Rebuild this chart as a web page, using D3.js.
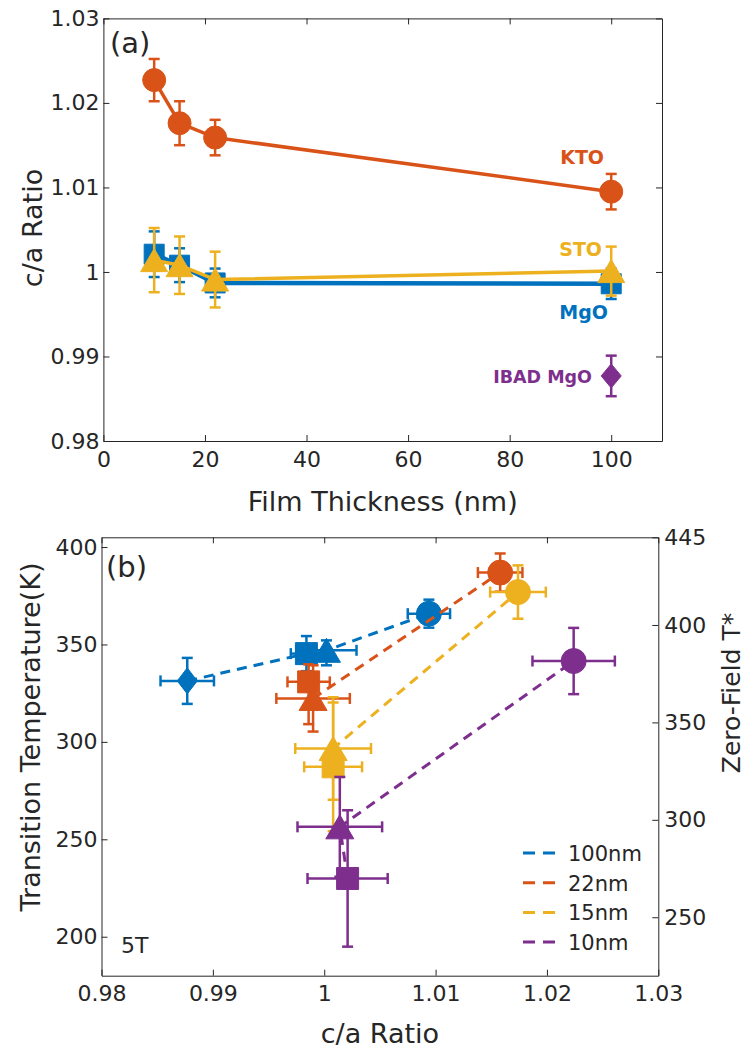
<!DOCTYPE html>
<html>
<head>
<meta charset="utf-8">
<script src="https://cdn.jsdelivr.net/npm/d3@7"></script>
<style>
body { margin: 0; background: #fff; }
text { font-family: "DejaVu Sans", sans-serif; fill: #262626; }
</style>
</head>
<body>
<svg id="fig" width="748" height="1055"></svg>
<script>
// ---- panel (a): c/a ratio vs film thickness ----
var thickness = [10, 15, 22, 100];
var ktoRatio = [1.0227, 1.0176, 1.0159, 1.0095];
var ktoErr   = [0.0025, 0.0026, 0.0021, 0.0021];
var stoRatio = [1.0014, 1.0008, 0.9991, 1.0001];
var stoErr   = [0.0038, 0.0034, 0.0033, 0.0029];
var mgoRatio = [1.0021, 1.0008, 0.9987, 0.9986];
var mgoErr   = [0.0027, 0.0020, 0.0017, 0.0018];
var ibadThickness = [100];
var ibadRatio = [0.9877];
var ibadErr   = [0.0024];

// ---- panel (b): transition temperature vs c/a ratio ----
// rows = film thickness, columns = substrate (null = no sample)
var groupLabels = ["100nm", "22nm", "15nm", "10nm"];
var substrates = ["IBAD MgO", "MgO", "STO", "KTO"];
var caB = [
  [0.9877, 0.9984, 1.0002, 1.0094],
  [null,   0.9986, 0.9990, 1.0158],
  [null,   1.0008, 1.0008, 1.0174],
  [null,   1.0021, 1.0014, 1.0224]
];
var caErrB = [
  [0.0024, 0.0014, 0.0027, 0.0019],
  [null,   0.0019, 0.0033, 0.0020],
  [null,   0.0026, 0.0034, 0.0025],
  [null,   0.0036, 0.0038, 0.0037]
];
var tempB = [
  [331.3, 345.3, 347.0, 365.8],
  [null,  330.8, 322.3, 386.9],
  [null,  287.2, 296.6, 376.9],
  [null,  229.9, 256.4, 341.5]
];
var tempErrLow = [
  [11.8, 9, 7.7, 7.2],
  [null, 21.7, 17, 9.8],
  [null, 33, 26.3, 13.7],
  [null, 35, 25.6, 17]
];
var tempErrHigh = [
  [11.8, 9, 5.1, 7.2],
  [null, 9, 17, 9.8],
  [null, 33, 26.3, 13.7],
  [null, 35, 25.6, 17]
];

// tick values
var thicknessTicks = [0, 20, 40, 60, 80, 100];
var caTicks = [0.98, 0.99, 1, 1.01, 1.02, 1.03];
var tempTicks = [200, 250, 300, 350, 400];
var zeroFieldTicks = [250, 300, 350, 400, 445];

var colors = { blue: "#0072BD", orange: "#D95319", yellow: "#EDB120", purple: "#7E2F8E" };
var groupColors = [colors.blue, colors.orange, colors.yellow, colors.purple];
var substrateShapes = ["diamond", "square", "triangle", "circle"];

var svg = d3.select("#fig");
var axisColor = "#262626";

function markerPath(type, s) {
  var p;
  if (type === "circle") {
    p = d3.path(); p.arc(0, 0, s.r, 0, 2 * Math.PI); p.closePath();
    return p.toString();
  }
  if (type === "square") {
    var h = s.sq / 2;
    return "M" + (-h) + "," + (-h) + "H" + h + "V" + h + "H" + (-h) + "Z";
  }
  if (type === "triangle") {
    return "M0," + (-s.th / 2) + "L" + (s.tw / 2) + "," + (s.th / 2) + "L" + (-s.tw / 2) + "," + (s.th / 2) + "Z";
  }
  // diamond
  return "M0," + (-s.dh / 2) + "L" + (s.dw / 2) + ",0L0," + (s.dh / 2) + "L" + (-s.dw / 2) + ",0Z";
}

function drawMarker(g, type, x, y, color, s) {
  g.append("path")
    .attr("d", markerPath(type, s))
    .attr("transform", "translate(" + x + "," + y + ")")
    .attr("fill", color)
    .attr("stroke", color)
    .attr("stroke-width", 1);
}

function vBar(g, x, y1, y2, color, cap) {
  g.append("line").attr("x1", x).attr("x2", x).attr("y1", y1).attr("y2", y2)
    .attr("stroke", color).attr("stroke-width", 2.5);
  [y1, y2].forEach(function (y) {
    g.append("line").attr("x1", x - cap / 2).attr("x2", x + cap / 2).attr("y1", y).attr("y2", y)
      .attr("stroke", color).attr("stroke-width", 2.5);
  });
}

function hBar(g, y, x1, x2, color, cap) {
  g.append("line").attr("x1", x1).attr("x2", x2).attr("y1", y).attr("y2", y)
    .attr("stroke", color).attr("stroke-width", 2.5);
  [x1, x2].forEach(function (x) {
    g.append("line").attr("x1", x).attr("x2", x).attr("y1", y - cap / 2).attr("y2", y + cap / 2)
      .attr("stroke", color).attr("stroke-width", 2.5);
  });
}

function styleAxis(sel, fontSize) {
  sel.select(".domain").attr("stroke", axisColor).attr("stroke-width", 1);
  sel.selectAll(".tick line").attr("stroke", axisColor).attr("stroke-width", 1);
  sel.selectAll(".tick text").attr("font-size", fontSize).attr("fill", axisColor)
    .style("font-family", "DejaVu Sans, sans-serif");
}

function caFormat(d) { return String(parseFloat(d.toFixed(2))); }

// ================= PANEL (a) =================
var xA = d3.scaleLinear().domain([0, 110]).range([103.4, 662]);
var yA = d3.scaleLinear().domain([0.98, 1.03]).range([441, 18.4]);
var gA = svg.append("g");

gA.append("g").attr("transform", "translate(0," + yA.range()[0] + ")")
  .call(d3.axisBottom(xA).tickValues(thicknessTicks).tickSize(-6).tickSizeOuter(0).tickPadding(10))
  .call(styleAxis, 22);
gA.append("g").attr("transform", "translate(0," + yA.range()[1] + ")")
  .call(d3.axisTop(xA).tickValues(thicknessTicks).tickSize(-6).tickSizeOuter(0).tickFormat(""))
  .call(styleAxis, 22);
gA.append("g").attr("transform", "translate(" + xA.range()[0] + ",0)")
  .call(d3.axisLeft(yA).tickValues(caTicks).tickSize(-6).tickSizeOuter(0).tickPadding(4).tickFormat(caFormat))
  .call(styleAxis, 22);
gA.append("g").attr("transform", "translate(" + xA.range()[1] + ",0)")
  .call(d3.axisRight(yA).tickValues(caTicks).tickSize(-6).tickSizeOuter(0).tickFormat(""))
  .call(styleAxis, 22);

var sizeA = { r: 11.5, sq: 20, tw: 27, th: 23, dw: 20, dh: 24 };
var seriesA = [
  { x: thickness, y: mgoRatio, e: mgoErr, color: colors.blue, shape: "square", lw: 4.5 },
  { x: thickness, y: stoRatio, e: stoErr, color: colors.yellow, shape: "triangle", lw: 3.5 },
  { x: thickness, y: ktoRatio, e: ktoErr, color: colors.orange, shape: "circle", lw: 3.5 },
  { x: ibadThickness, y: ibadRatio, e: ibadErr, color: colors.purple, shape: "diamond", lw: 3.5 }
];
var lineA = d3.line().x(function (d) { return xA(d[0]); }).y(function (d) { return yA(d[1]); });
seriesA.forEach(function (s) {
  var pts = s.x.map(function (x, i) { return [x, s.y[i]]; });
  var g = gA.append("g");
  g.append("path").attr("d", lineA(pts)).attr("fill", "none")
    .attr("stroke", s.color).attr("stroke-width", s.lw);
  pts.forEach(function (p, i) {
    vBar(g, xA(p[0]), yA(p[1] + s.e[i]), yA(p[1] - s.e[i]), s.color, 11);
  });
  pts.forEach(function (p) {
    drawMarker(g, s.shape, xA(p[0]), yA(p[1]), s.color, sizeA);
  });
});

gA.append("text").attr("x", 110).attr("y", 53).attr("font-size", 29).text("(a)");
var ann = [
  { t: "KTO", x: 604, y: 164, c: colors.orange, fs: 19 },
  { t: "STO", x: 602, y: 256, c: colors.yellow, fs: 19 },
  { t: "MgO", x: 608, y: 319, c: colors.blue, fs: 19 },
  { t: "IBAD MgO", x: 592, y: 383, c: colors.purple, fs: 17.5 }
];
ann.forEach(function (a) {
  gA.append("text").attr("x", a.x).attr("y", a.y).attr("text-anchor", "end")
    .attr("font-size", a.fs).attr("font-weight", "bold").style("fill", a.c).text(a.t);
});
gA.append("text").attr("x", (xA.range()[0] + xA.range()[1]) / 2).attr("y", 511)
  .attr("text-anchor", "middle").attr("font-size", 27).text("Film Thickness (nm)");
gA.append("text").attr("transform", "translate(42,228) rotate(-90)")
  .attr("text-anchor", "middle").attr("font-size", 27).text("c/a Ratio");

// ================= PANEL (b) =================
var xB = d3.scaleLinear().domain([0.98, 1.03]).range([101.5, 658.3]);
var yB = d3.scaleLinear().domain([180, 405]).range([975.7, 537.3]);
var yB2 = d3.scaleLinear().domain([220, 445]).range([975.7, 537.3]);
var gB = svg.append("g");

gB.append("g").attr("transform", "translate(0," + yB.range()[0] + ")")
  .call(d3.axisBottom(xB).tickValues(caTicks).tickSize(-6).tickSizeOuter(0).tickPadding(10).tickFormat(caFormat))
  .call(styleAxis, 22);
gB.append("g").attr("transform", "translate(0," + yB.range()[1] + ")")
  .call(d3.axisTop(xB).tickValues(caTicks).tickSize(-6).tickSizeOuter(0).tickFormat(""))
  .call(styleAxis, 22);
gB.append("g").attr("transform", "translate(" + xB.range()[0] + ",0)")
  .call(d3.axisLeft(yB).tickValues(tempTicks).tickSize(-6).tickSizeOuter(0).tickPadding(4))
  .call(styleAxis, 22);
gB.append("g").attr("transform", "translate(" + xB.range()[1] + ",0)")
  .call(d3.axisRight(yB2).tickValues(zeroFieldTicks).tickSize(-6).tickSizeOuter(0).tickPadding(6))
  .call(styleAxis, 22);

var sizeB = { r: 12.5, sq: 22, tw: 28, th: 24, dw: 20, dh: 26 };
var lineB = d3.line().x(function (d) { return xB(d[0]); }).y(function (d) { return yB(d[1]); });

groupLabels.forEach(function (label, gi) {
  var color = groupColors[gi];
  var g = gB.append("g");
  var pts = [];
  substrates.forEach(function (sub, si) {
    var c = caB[gi][si];
    if (c === null) return;
    var t = tempB[gi][si];
    pts.push([c, t]);
    var cx = xB(c), cy = yB(t);
    vBar(g, cx, yB(t + tempErrHigh[gi][si]), yB(t - tempErrLow[gi][si]), color, 11);
    hBar(g, cy, xB(c - caErrB[gi][si]), xB(c + caErrB[gi][si]), color, 11);
    drawMarker(g, substrateShapes[si], cx, cy, color, sizeB);
  });
  g.append("path").attr("d", lineB(pts)).attr("fill", "none")
    .attr("stroke", color).attr("stroke-width", 3).attr("stroke-dasharray", "10,7");
});

// legend
var leg = gB.append("g");
groupLabels.forEach(function (label, i) {
  var y = 853 + i * 29.7;
  leg.append("line").attr("x1", 523).attr("x2", 555).attr("y1", y).attr("y2", y)
    .attr("stroke", groupColors[i]).attr("stroke-width", 3).attr("stroke-dasharray", "12,8");
  leg.append("text").attr("x", 568).attr("y", y + 8).attr("font-size", 21).text(label);
});

gB.append("text").attr("x", 106).attr("y", 577).attr("font-size", 29).text("(b)");
gB.append("text").attr("x", 121).attr("y", 953).attr("font-size", 22).text("5T");
gB.append("text").attr("x", (xB.range()[0] + xB.range()[1]) / 2).attr("y", 1043)
  .attr("text-anchor", "middle").attr("font-size", 27).text("c/a Ratio");
gB.append("text").attr("transform", "translate(40,737) rotate(-90)")
  .attr("text-anchor", "middle").attr("font-size", 27).text("Transition Temperature(K)");
gB.append("text").attr("transform", "translate(740,693) rotate(-90)")
  .attr("text-anchor", "middle").attr("font-size", 25).text("Zero-Field T*");
</script>
</body>
</html>
